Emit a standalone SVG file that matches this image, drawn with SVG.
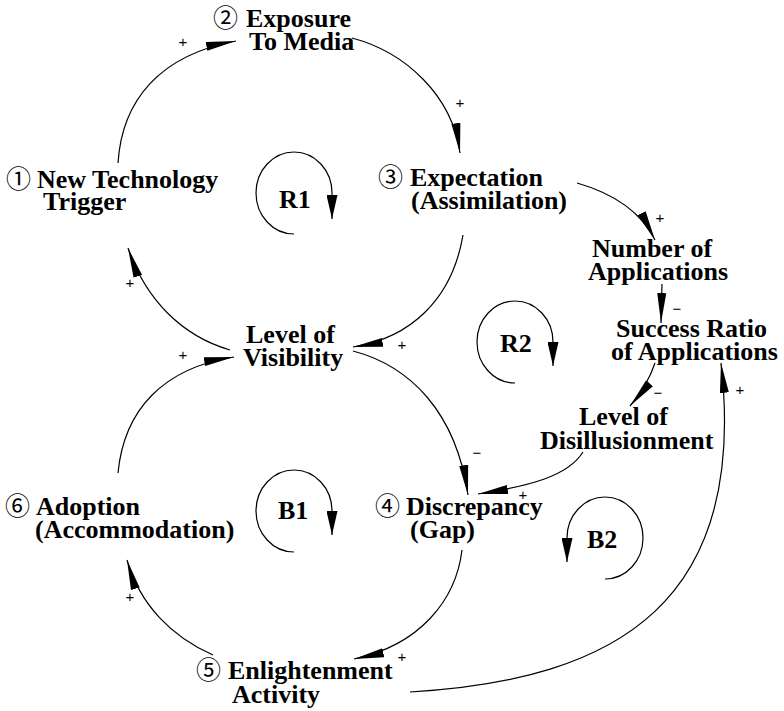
<svg xmlns="http://www.w3.org/2000/svg" width="784" height="711" viewBox="0 0 784 711">
<style>
.t { font-family: "Liberation Serif", "Times New Roman", serif; font-size: 26px; font-weight: bold; fill: #000; }
.n { font-family: "Noto Sans CJK JP", "DejaVu Sans", sans-serif; font-weight: normal; font-size: 25px; }
.s { font-family: "Liberation Sans", Arial, sans-serif; font-size: 15px; fill: #000; text-anchor: middle; }
.c { fill: none; stroke: #000; stroke-width: 1.2; marker-end: url(#ah); }
.l { fill: none; stroke: #000; stroke-width: 1.2; marker-end: url(#la); }
</style>
<defs>
<marker id="ah" markerUnits="userSpaceOnUse" viewBox="0 0 30 10" markerWidth="30" markerHeight="10" refX="30" refY="5" orient="auto">
<path d="M0,0.5 L30,5 L0,9.5 Z" fill="#000"/>
</marker>
<marker id="la" markerUnits="userSpaceOnUse" viewBox="0 0 24 11" markerWidth="24" markerHeight="11" refX="24" refY="5.5" orient="auto">
<path d="M0,0 L24,5.5 L0,11 Z" fill="#000"/>
</marker>
</defs>
<rect width="784" height="711" fill="#fff"/>

<g id="connectors">
<path class="c" d="M118,163 C122,100 160,55 236,41"/>
<path class="c" d="M352,38 C405,52 452,95 460,153"/>
<path class="c" d="M463,235 C452,300 410,338 353,347"/>
<path class="c" d="M230,350 C182,336 146,300 128,248"/>
<path class="c" d="M118,473 C124,410 163,368 234,357"/>
<path class="c" d="M353,351 C410,366 456,412 468,495"/>
<path class="c" d="M462,550 C456,600 420,645 354,659"/>
<path class="c" d="M213,655 C172,637 140,605 127,560"/>
<path class="c" d="M577,183 C612,193 640,210 655,240"/>
<path class="c" d="M662,284 L661,323"/>
<path class="c" d="M655,363 C650,378 642,392 630,406"/>
<path class="c" d="M583,452 C568,476 530,486 478,494"/>
<path class="c" d="M410,692 C620,680 748,600 721,363"/>
<text class="s" x="183" y="47">+</text>
<text class="s" x="460" y="108">+</text>
<text class="s" x="660" y="223">+</text>
<text class="s" x="677" y="314">−</text>
<text class="s" x="658" y="398">−</text>
<text class="s" x="402" y="350">+</text>
<text class="s" x="130" y="288">+</text>
<text class="s" x="183" y="360">+</text>
<text class="s" x="477" y="458">−</text>
<text class="s" x="523" y="500">+</text>
<text class="s" x="740" y="395">+</text>
<text class="s" x="130" y="602">+</text>
<text class="s" x="402" y="662">+</text>
</g>

<g id="loop-R1">
<path class="l" d="M294,234 A38,41 0 1 1 332,193 L332,219"/>
<text class="t" x="279" y="208">R1</text>
</g>
<g id="loop-R2">
<path class="l" d="M515,383 A38,41 0 1 1 553,342 L553,366"/>
<text class="t" x="500" y="352">R2</text>
</g>
<g id="loop-B1">
<path class="l" d="M294,552 A38,41 0 1 1 332,511 L332,535"/>
<text class="t" x="278" y="519">B1</text>
</g>
<g id="loop-B2">
<path class="l" d="M605,579 A38,41 0 1 0 567,538 L567,562"/>
<text class="t" x="587" y="548">B2</text>
</g>

<g id="node-trigger">
<text class="t" x="6" y="188"><tspan class="n">① </tspan><tspan x="37">New Technology</tspan></text>
<text class="t" x="43" y="210">Trigger</text>
</g>
<g id="node-exposure">
<text class="t" x="213" y="27"><tspan class="n">② </tspan><tspan x="246">Exposure</tspan></text>
<text class="t" x="249" y="50">To Media</text>
</g>
<g id="node-expectation">
<text class="t" x="378" y="186"><tspan class="n">③ </tspan><tspan x="410">Expectation</tspan></text>
<text class="t" x="411" y="209">(Assimilation)</text>
</g>
<g id="node-visibility">
<text class="t" x="246" y="343">Level of</text>
<text class="t" x="243" y="366">Visibility</text>
</g>
<g id="node-applications">
<text class="t" x="592" y="257">Number of</text>
<text class="t" x="588" y="280">Applications</text>
</g>
<g id="node-success">
<text class="t" x="616" y="337">Success Ratio</text>
<text class="t" x="611" y="360">of Applications</text>
</g>
<g id="node-disillusionment">
<text class="t" x="579" y="425">Level of</text>
<text class="t" x="540" y="449">Disillusionment</text>
</g>
<g id="node-discrepancy">
<text class="t" x="375" y="515"><tspan class="n">④ </tspan><tspan x="406">Discrepancy</tspan></text>
<text class="t" x="410" y="538">(Gap)</text>
</g>
<g id="node-enlightenment">
<text class="t" x="196" y="679"><tspan class="n">⑤ </tspan><tspan x="228">Enlightenment</tspan></text>
<text class="t" x="232" y="703">Activity</text>
</g>
<g id="node-adoption">
<text class="t" x="5" y="515"><tspan class="n">⑥ </tspan><tspan x="36">Adoption</tspan></text>
<text class="t" x="35" y="538">(Accommodation)</text>
</g>
</svg>
